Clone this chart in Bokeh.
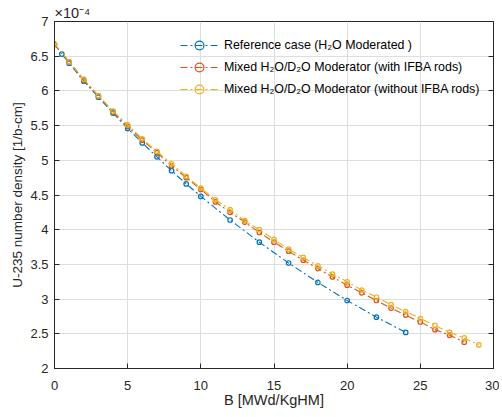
from bokeh.plotting import figure
from bokeh.models import (LinearAxis, Range1d, FixedTicker, Title,
                          CustomJSTickFormatter, Legend, LegendItem)
from bokeh.embed import file_html
from bokeh.resources import INLINE

# ---- data (U-235 number density in units of 1e-4 1/b-cm) ----
burnup_ref = [0, 0.5, 1, 2, 3, 4, 5, 6, 7, 8, 9, 10, 12, 14, 16, 18, 20, 22, 24]
u235_ref = [6.67, 6.53, 6.40, 6.14, 5.91, 5.68, 5.46, 5.25, 5.05, 4.85, 4.66,
            4.48, 4.14, 3.82, 3.52, 3.24, 2.98, 2.74, 2.52]

burnup_ifba = [0, 1, 2, 3, 4, 5, 6, 7, 8, 9, 10, 11, 12, 13, 14, 15, 16, 17,
               18, 19, 20, 21, 22, 23, 24, 25, 26, 27, 28]
u235_ifba = [6.67, 6.42, 6.16, 5.93, 5.70, 5.49, 5.29, 5.11, 4.92, 4.75, 4.58,
             4.40, 4.25, 4.11, 3.96, 3.82, 3.69, 3.56, 3.44, 3.32, 3.20, 3.09,
             2.98, 2.87, 2.77, 2.67, 2.56, 2.48, 2.38]

burnup_noifba = [0, 1, 2, 3, 4, 5, 6, 7, 8, 9, 10, 11, 12, 13, 14, 15, 16, 17,
                 18, 19, 20, 21, 22, 23, 24, 25, 26, 27, 28, 29]
u235_noifba = [6.68, 6.42, 6.17, 5.93, 5.71, 5.51, 5.31, 5.13, 4.95, 4.77, 4.60,
               4.43, 4.29, 4.13, 4.00, 3.86, 3.72, 3.60, 3.48, 3.36, 3.25, 3.13,
               3.03, 2.92, 2.82, 2.72, 2.62, 2.52, 2.44, 2.34]

series_labels = ["Reference case (H\u2082O Moderated )",
                 "Mixed H\u2082O/D\u2082O Moderator (with IFBA rods)",
                 "Mixed H\u2082O/D\u2082O Moderator (without IFBA rods)"]
x_ticks = [0, 5, 10, 15, 20, 25, 30]
y_ticks = [2, 2.5, 3, 3.5, 4, 4.5, 5, 5.5, 6, 6.5, 7]
exponent_text = "\u00d710\u207b\u2074"

FONT = "Liberation Sans"
TXT = "#262626"
colors = ["#0072BD", "#D95319", "#EDB120"]

p = figure(frame_width=439, frame_height=347, output_backend="svg",
           toolbar_location=None,
           x_range=Range1d(0, 30), y_range=Range1d(2, 7),
           min_border_left=54, min_border_right=6, min_border_top=21,
           min_border_bottom=36)
p.outline_line_color = TXT
p.outline_line_width = 1

p.add_layout(Title(text=exponent_text, align="left", offset=0, standoff=2,
                   text_font=FONT, text_font_size="14.5px",
                   text_font_style="normal", text_color=TXT), "above")

for ax in (p.xaxis[0], p.yaxis[0]):
    ax.major_tick_in = 5
    ax.major_tick_out = 0
    ax.minor_tick_line_color = None
    ax.axis_line_color = TXT
    ax.major_tick_line_color = TXT
    ax.major_label_text_font = FONT
    ax.major_label_text_font_size = "13px"
    ax.major_label_text_color = TXT
    ax.axis_label_text_font = FONT
    ax.axis_label_text_font_style = "normal"
    ax.axis_label_text_color = TXT
    ax.formatter = CustomJSTickFormatter(code="return tick.toString();")

p.xaxis.ticker = FixedTicker(ticks=x_ticks)
p.yaxis.ticker = FixedTicker(ticks=y_ticks)
p.xaxis.axis_label = "B [MWd/KgHM]"
p.yaxis.axis_label = "U-235 number density [1/b-cm]"
p.xaxis.axis_label_text_font_size = "14.5px"
p.yaxis.axis_label_text_font_size = "13.5px"
p.xaxis.major_label_standoff = 12
p.yaxis.major_label_standoff = 6
p.xaxis.axis_label_standoff = -1
p.yaxis.axis_label_standoff = 2

ax_r = LinearAxis(ticker=FixedTicker(ticks=y_ticks),
                  formatter=CustomJSTickFormatter(code="return '';"),
                  major_tick_in=5, major_tick_out=0,
                  major_label_text_font_size="0px",
                  minor_tick_line_color=None, axis_line_color=TXT,
                  major_tick_line_color=TXT, major_label_standoff=0)
p.add_layout(ax_r, "right")

p.xgrid.ticker = FixedTicker(ticks=x_ticks)
p.ygrid.ticker = FixedTicker(ticks=y_ticks)
p.xgrid.grid_line_color = "#dedede"
p.ygrid.grid_line_color = "#dedede"

items = []
for xs, ys, c, lab in ((burnup_ref, u235_ref, colors[0], series_labels[0]),
                       (burnup_ifba, u235_ifba, colors[1], series_labels[1]),
                       (burnup_noifba, u235_noifba, colors[2], series_labels[2])):
    r1 = p.line(xs, ys, line_color=c, line_width=1.1, line_dash="7 3 2 3")
    r2 = p.scatter(xs, ys, marker="circle", size=4.5, line_color=c,
                   fill_color=None, line_width=1.2)
    items.append(LegendItem(label=lab, renderers=[r1, r2]))

legend = Legend(items=items, location=(126, 268))
legend.background_fill_alpha = 0
legend.border_line_color = None
legend.label_text_font = FONT
legend.label_text_font_size = "12.4px"
legend.label_text_color = "#000000"
legend.glyph_width = 38
legend.glyph_height = 22
legend.label_height = 22
legend.spacing = 0
legend.padding = 5
legend.margin = 0
legend.label_standoff = 6
p.add_layout(legend)

open("out.html", "w").write(file_html(p, INLINE))
